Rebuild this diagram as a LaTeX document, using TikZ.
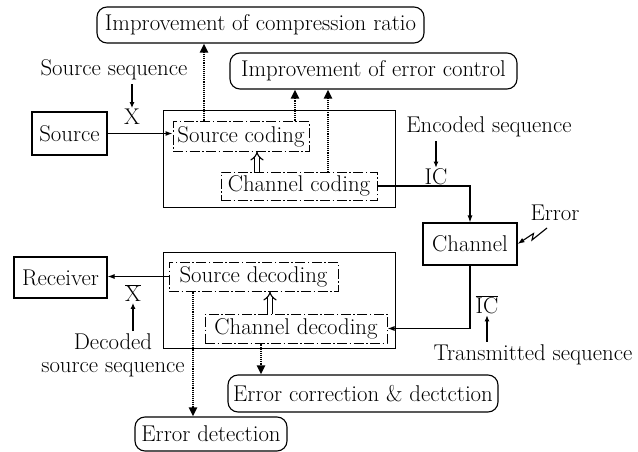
\documentclass[tikz,border=0pt]{standalone}
\usepackage{fontspec}
\usetikzlibrary{arrows.meta}
\begin{document}
\begin{tikzpicture}[x=1pt,y=-1pt,
  font=\fontsize{22.8}{23}\selectfont\addfontfeatures{FakeBold=0.8},
  plainbox/.style={draw, line width=1.1pt, inner sep=2pt},
  roundbox/.style={draw, rounded corners=10pt, line width=1.1pt, inner sep=1pt},
  dashbox/.style={draw, line width=1pt, inner sep=1pt,
    dash pattern=on 10pt off 2.5pt on 1.5pt off 2.5pt},
  framebox/.style={draw, line width=1pt},
  txt/.style={inner sep=1pt},
  flow/.style={line width=1.1pt, -{Latex[length=7pt,width=5pt]}},
  hint/.style={line width=1.1pt, -{Latex[length=6pt,width=5pt]}},
  effect/.style={line width=2.4pt, dash pattern=on 1pt off 0.9pt,
    -{Triangle[length=9pt,width=8pt]}},
  lift/.style={line width=1.1pt, double, double distance=3.5pt,
    -{Implies[length=7pt]}}]
\useasboundingbox (0,0) rectangle (638,452);

% goals
\node[roundbox, minimum width=327pt, minimum height=36pt] (comp) at (260.5,25) {Improvement of compression ratio};
\node[roundbox, minimum width=287pt, minimum height=36pt] (errc) at (373.5,71) {Improvement of error control};

% transmitter side
\node[plainbox, minimum width=75pt, minimum height=43pt] (src) at (69.5,133.5) {Source};
\node[framebox, minimum width=232pt, minimum height=96pt] (enc) at (279,159) {};
\node[dashbox, minimum width=136pt, minimum height=29pt] (scod) at (241,136.5) {Source coding};
\node[dashbox, minimum width=156pt, minimum height=28pt] (ccod) at (299,186) {Channel coding};

% channel
\node[plainbox, minimum width=94pt, minimum height=42pt] (chan) at (470,244) {Channel};

% receiver side
\node[framebox, minimum width=232pt, minimum height=96pt] (dec) at (279,300) {};
\node[dashbox, minimum width=169pt, minimum height=29pt] (sdec) at (253.5,276.5) {Source decoding};
\node[dashbox, minimum width=182pt, minimum height=29pt] (cdec) at (296,328.5) {Channel decoding};
\node[plainbox, minimum width=93pt, minimum height=41pt] (rcv) at (60.5,277.5) {Receiver};
\node[roundbox, minimum width=270pt, minimum height=37pt] (ecd) at (363,393.5) {Error correction \& dectction};
\node[roundbox, minimum width=152pt, minimum height=34pt] (edet) at (211,434) {Error detection};

% sequence labels
\node[txt] (ssq) at (114,70) {Source sequence};
\node[txt] (xin) at (132,117) {X};
\node[txt] (esq) at (489,127) {Encoded sequence};
\node[txt] (ic) at (436,177) {IC};
\node[txt] (err) at (555,213) {Error};
\node[txt] (icb) at (487,305) {$\overline{\mbox{IC}}$};
\node[txt] (tsq) at (533,355) {Transmitted sequence};
\node[txt] (xout) at (133,293) {$\overline{\mbox{X}}$};
\node[txt, align=center] (dsq) at (113,355) {Decoded\\source sequence};

\draw[hint] ([yshift=-3pt]ssq.south -| xin.north) -- (xin.north);
\draw[hint] ([yshift=-3pt]esq.south -| ic.north) -- (ic.north);
\draw[hint] ([yshift=2pt]tsq.north -| icb.south) -- (icb.south);
\draw[hint] ([yshift=1pt]dsq.north -| xout.south) -- (xout.south);

% signal path
\draw[flow] (src.east) -- (src.east -| scod.west);
\draw[flow] (ccod.east) -| (chan.north);
\draw[flow] (chan.south) |- (cdec.east);
\draw[flow] (sdec.west) -- (sdec.west -| rcv.east);
\coordinate (zap) at (547,228);
\draw[flow] (zap) -- (532,240) -- (533.5,233.5) -- (chan.east);

% stage hand-over inside coder and decoder
\draw[lift] ([xshift=-42pt]ccod.north) -- ([xshift=-42pt]ccod.north |- scod.south);
\draw[lift] ([xshift=-26pt]cdec.north) -- ([xshift=-26pt]cdec.north |- sdec.south);

% effects on the goals
\draw[effect] ([xshift=-37pt]scod.north) -- ([xshift=-37pt]scod.north |- comp.south);
\draw[effect] ([xshift=54pt]scod.north) -- ([xshift=54pt]scod.north |- errc.south);
\draw[effect] ([xshift=29pt]ccod.north) -- ([xshift=29pt]ccod.north |- errc.south);
\draw[effect] ([xshift=-60.5pt]sdec.south) -- ([xshift=-60.5pt]sdec.south |- edet.north);
\draw[effect] ([xshift=-35pt]cdec.south) -- ([xshift=-35pt]cdec.south |- ecd.north);
\end{tikzpicture}
\end{document}
